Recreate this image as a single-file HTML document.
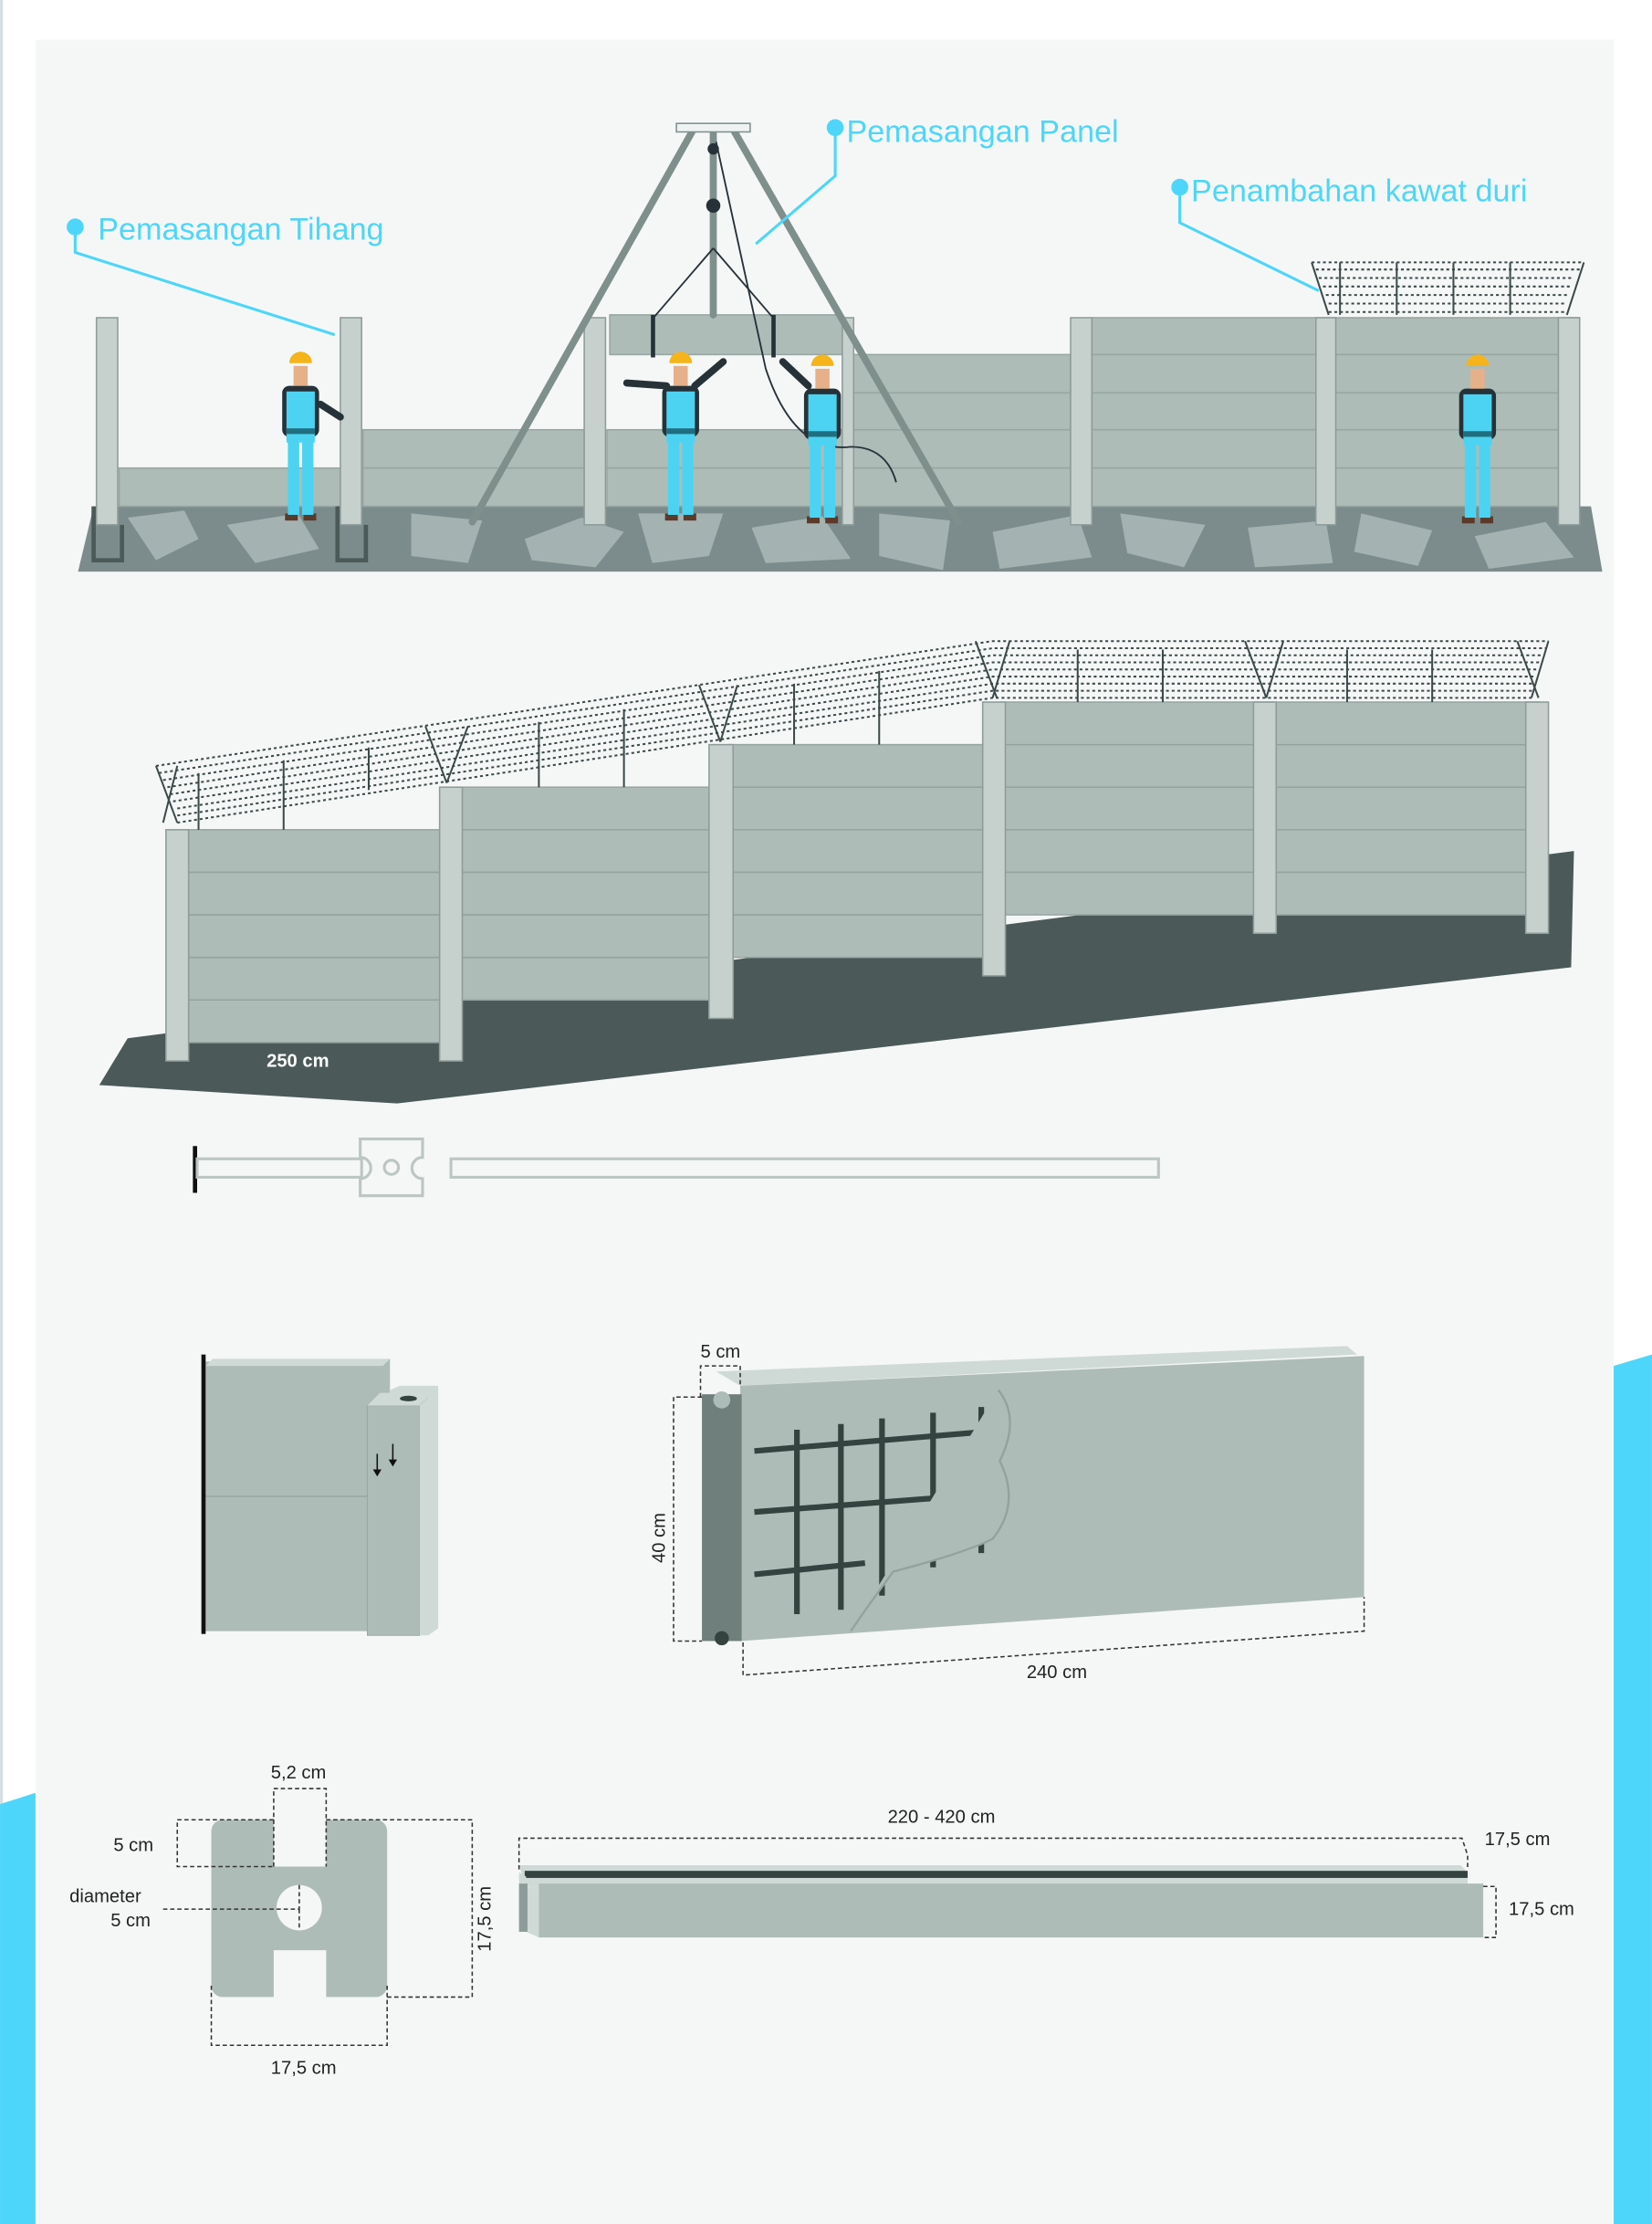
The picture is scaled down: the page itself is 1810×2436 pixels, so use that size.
<!DOCTYPE html>
<html><head><meta charset="utf-8"><style>
html,body{margin:0;padding:0;background:#fff}
svg{display:block}
text{font-family:"Liberation Sans",sans-serif}
</style></head><body>
<svg width="1810" height="2436" viewBox="0 0 1165 1568" xmlns="http://www.w3.org/2000/svg">
<defs>
<g id="w">
 <rect x="-11" y="-6" width="9" height="5" fill="#5a3a2a"/><rect x="2" y="-6" width="9" height="5" fill="#5a3a2a"/>
 <rect x="-9" y="-58" width="8" height="53" fill="#4dd3f2"/><rect x="1" y="-58" width="8" height="53" fill="#4dd3f2"/>
 <rect x="-13" y="-96" width="26" height="36" rx="5" fill="#263238"/>
 <rect x="-10" y="-92" width="20" height="36" fill="#4dd3f2"/>
 <rect x="-10" y="-66" width="20" height="4" fill="#1f6f80"/>
 <rect x="-5" y="-110" width="10" height="14" fill="#e6b089"/>
 <path d="M-8,-112 A8,8 0 0 1 8,-112 Z" fill="#f4b41a"/>
</g>
</defs>
<rect width="1165" height="1568" fill="#fff"/>
<rect x="0" y="0" width="2" height="1568" fill="#d5dfe2"/>
<rect x="25" y="28" width="1113" height="1540" fill="#f5f7f7"/>
<polygon points="0,1272 25,1264 25,1568 0,1568" fill="#4dd6f9"/>
<polygon points="1138,963 1165,955 1165,1568 1138,1568" fill="#4dd6f9"/>

<!-- TOP SCENE -->
<polygon points="55,403 66,357 1122,357 1130,403" fill="#7c8b8b"/>
<g fill="#a5b2b2">
<path d="M90,365 l40,-5 l10,20 l-30,15 z M160,370 l50,-8 l15,25 l-45,10 z M290,362 l50,5 l-10,30 l-40,-5 z M370,380 l40,-15 l30,10 l-20,25 l-45,-5z M450,362 l60,0 l-10,30 l-40,5z M530,372 l50,-8 l20,30 l-60,3z M620,362 l50,5 l-5,35 l-45,-10z M700,375 l60,-12 l10,30 l-65,8z M790,362 l60,8 l-15,30 l-40,-10z M880,372 l55,-5 l5,30 l-55,3z M960,362 l50,12 l-10,25 l-45,-10z M1040,378 l50,-10 l20,25 l-60,8z"/>
</g>
<g fill="#aebcb8" stroke="#97a6a2" stroke-width="1">
<rect x="84" y="330" width="156" height="27"/>
<rect x="256" y="303" width="156" height="27"/><rect x="256" y="330" width="156" height="27"/>
<rect x="428" y="303" width="166" height="27"/><rect x="428" y="330" width="166" height="27"/>
<rect x="600" y="250" width="155" height="27"/><rect x="600" y="277" width="155" height="27"/><rect x="600" y="303" width="155" height="27"/><rect x="600" y="330" width="155" height="27"/>
<rect x="770" y="224" width="344" height="26"/><rect x="770" y="250" width="344" height="27"/><rect x="770" y="277" width="344" height="26"/><rect x="770" y="303" width="344" height="27"/><rect x="770" y="330" width="344" height="27"/>
<rect x="430" y="222" width="164" height="28"/>
</g>
<g fill="#c6d0cd" stroke="#8e9c99" stroke-width="1">
<rect x="68" y="224" width="15" height="146"/><rect x="240" y="224" width="15" height="146"/>
<rect x="412" y="224" width="15" height="146"/><rect x="594" y="224" width="8" height="146"/>
<rect x="755" y="224" width="15" height="146"/><rect x="928" y="224" width="14" height="146"/><rect x="1099" y="224" width="15" height="146"/>
</g>
<path d="M66,357 v38 h20 v-25" fill="none" stroke="#4b5a58" stroke-width="3"/>
<path d="M238,357 v38 h20 v-25" fill="none" stroke="#4b5a58" stroke-width="3"/>
<g stroke="#7f8f8c" stroke-width="5" stroke-linecap="round">
<line x1="488" y1="93" x2="333" y2="368"/><line x1="518" y1="93" x2="676" y2="368"/><line x1="503" y1="93" x2="503" y2="222"/>
</g>
<rect x="477" y="87" width="52" height="6" fill="#eef2f2" stroke="#7f8f8c"/>
<g stroke="#263238" stroke-width="1.2" fill="none">
<line x1="503" y1="175" x2="460" y2="225"/><line x1="503" y1="175" x2="546" y2="225"/>
<path d="M505,100 L540,260 Q560,320 600,315 Q625,315 632,340"/>
</g>
<circle cx="503" cy="105" r="4" fill="#263238"/><circle cx="503" cy="145" r="5" fill="#263238"/>
<rect x="459" y="222" width="3" height="30" fill="#263238"/><rect x="544" y="222" width="3" height="30" fill="#263238"/>
<g stroke="#3b4a48" stroke-width="1.3" fill="none">
<path d="M925,185 h192 M928,190 h186 M930,196 h180 M933,202 h174 M935,208 h172 M937,214 h168 M937,220 h168" stroke-dasharray="2,2"/>
<path d="M925,185 l12,37 M1117,185 l-12,37 M945,185 v37 M985,185 v37 M1025,185 v37 M1065,185 v37"/>
</g>
<use href="#w" x="212" y="368"/>
<use href="#w" x="480" y="368"/>
<use href="#w" x="580" y="370"/>
<use href="#w" x="1042" y="370"/>
<g stroke="#263238" stroke-width="5" stroke-linecap="round"><line x1="470" y1="272" x2="442" y2="270"/><line x1="490" y1="272" x2="510" y2="255"/><line x1="570" y1="272" x2="552" y2="255"/><line x1="226" y1="285" x2="240" y2="294"/></g>
<g fill="#4dd6f9"><circle cx="53" cy="160" r="6"/><circle cx="589" cy="90" r="6"/><circle cx="832" cy="132" r="6"/></g>
<g stroke="#4dd6f9" stroke-width="2" fill="none">
<polyline points="53,160 53,178 236,236"/><polyline points="589,90 589,124 533,172"/><polyline points="832,132 832,157 930,205"/>
</g>
<g fill="#4dd6f9" font-size="22"><text x="69" y="169">Pemasangan Tihang</text><text x="597" y="100">Pemasangan Panel</text><text x="840" y="142">Penambahan kawat duri</text></g>

<!-- MIDDLE SCENE -->
<polygon points="70,765 90,732 1110,600 1108,682 280,778" fill="#4b5a58"/>
<g fill="#aebcb8" stroke="#97a6a2">
<rect x="130" y="585" width="185" height="150"/><rect x="322" y="555" width="185" height="150"/><rect x="514" y="525" width="185" height="150"/><rect x="706" y="495" width="380" height="150"/>
</g>
<g stroke="#93a29e" stroke-width="1">
<path d="M130,615h185M130,645h185M130,675h185M130,705h185M322,585h185M322,615h185M322,645h185M322,675h185M514,555h185M514,585h185M514,615h185M514,645h185M706,525h380M706,555h380M706,585h380M706,615h380"/>
</g>
<g fill="#c6d0cd" stroke="#8e9c99">
<rect x="117" y="585" width="16" height="163"/><rect x="310" y="555" width="16" height="193"/><rect x="500" y="525" width="17" height="193"/><rect x="693" y="495" width="16" height="193"/><rect x="884" y="495" width="16" height="163"/><rect x="1076" y="495" width="16" height="163"/>
</g>
<g stroke="#3b4a48" stroke-width="1.3" fill="none">
<path d="M110,540 L700,452 H1092 M112,545 L700,457 H1090 M115,550 L700,462 H1088 M118,555 L700,467 H1086 M120,560 L700,472 H1085 M122,565 L700,477 H1083 M125,570 L700,482 H1082 M125,575 L700,487 H1081 M125,580 L700,492 H1080" stroke-dasharray="2,2"/>
<path d="M110,540 l15,40 M125,540 l-10,40 M300,512 l15,40 M330,512 l-15,40 M493,483 l15,40 M520,483 l-12,40 M688,452 l15,40 M712,452 l-12,40 M878,452 l15,40 M905,452 l-12,40 M1070,452 l15,40 M1092,452 l-12,40"/>
<path d="M140,545 v40 M200,536 v49 M260,527 v30 M380,509 v46 M440,500 v55 M560,482 v43 M620,473 v52 M760,458 v37 M820,458 v37 M950,458 v37 M1010,458 v37"/>
</g>
<text x="188" y="752" fill="#fff" font-size="13" font-weight="bold">250 cm</text>

<!-- RAIL -->
<rect x="136" y="808" width="3" height="33" fill="#111"/>
<rect x="139" y="817" width="116" height="13" fill="none" stroke="#bcc6c3" stroke-width="2"/>
<path d="M254,803 h44 v13 a7,7 0 0 0 0,15 v12 h-44 v-12 a7,7 0 0 0 0,-15 z" fill="#f5f7f7" stroke="#bcc6c3" stroke-width="2"/>
<circle cx="276" cy="823" r="5" fill="none" stroke="#bcc6c3" stroke-width="2"/>
<rect x="318" y="817" width="499" height="13" fill="none" stroke="#bcc6c3" stroke-width="2"/>

<!-- PANEL IN POST -->
<polygon points="145,960 275,958 275,1150 145,1150" fill="#aebcb8"/>
<polygon points="145,963 270,963 275,958 150,958" fill="#cfdad7"/>
<line x1="145" y1="1055" x2="259" y2="1055" stroke="#97a6a2"/>
<rect x="142" y="955" width="3" height="197" fill="#111"/>
<polygon points="275,980 282,977 309,977 309,1148 302,1153 275,1153" fill="#cfdad7"/>
<rect x="296" y="983" width="6" height="165" fill="#34433f"/>
<rect x="259" y="991" width="37" height="162" fill="#aebcb8" stroke="#97a6a2" stroke-width=".6"/>
<polygon points="259,991 268,982 305,982 296,991" fill="#cfdad7"/>
<polygon points="296,991 305,982 305,1150 296,1153" fill="#cfdad7"/>
<ellipse cx="288" cy="986" rx="6" ry="2" fill="#34433f"/>
<g stroke="#111" stroke-width="1"><line x1="266" y1="1025" x2="266" y2="1038"/><line x1="277" y1="1018" x2="277" y2="1031"/></g>
<g fill="#111"><path d="M263,1036 l6,0 l-3,5z"/><path d="M274,1029 l6,0 l-3,5z"/></g>

<!-- BIG PANEL -->
<polygon points="505,967 950,949 957,955 522,977" fill="#cfdad7"/>
<polygon points="522,977 962,956 962,1126 522,1157" fill="#aebcb8"/>
<rect x="495" y="983" width="28" height="174" fill="#6e7f7c"/>
<circle cx="509" cy="987" r="6" fill="#aebcb8"/><circle cx="509" cy="1155" r="5" fill="#34433f"/>
<g stroke="#34433f" stroke-width="4">
<line x1="532" y1="1023" x2="700" y2="1009"/><line x1="532" y1="1066" x2="702" y2="1053"/><line x1="532" y1="1110" x2="610" y2="1102"/>
<line x1="562" y1="1008" x2="562" y2="1138"/><line x1="593" y1="1004" x2="593" y2="1135"/><line x1="622" y1="1000" x2="622" y2="1125"/><line x1="658" y1="996" x2="658" y2="1105"/><line x1="692" y1="992" x2="692" y2="1095"/>
</g>
<path d="M704,980 Q720,1000 705,1030 Q720,1060 700,1085 Q680,1095 630,1108 Q610,1135 600,1150" fill="#aebcb8" stroke="#93a29e" stroke-width="1.5"/>
<g stroke="#333" stroke-width="1" stroke-dasharray="3,2" fill="none">
<path d="M494,985 v-22 h28 v14"/><path d="M495,985 h-20 v172 h20"/>
<path d="M524,1158 v23 L962,1150 v-24"/>
</g>
<g font-size="13" fill="#222">
<text x="494" y="957">5 cm</text>
<text x="724" y="1183">240 cm</text>
<text transform="translate(469,1102) rotate(-90)">40 cm</text>
</g>

<!-- H POST SECTION -->
<path d="M157,1283 h36 v33 h37 v-33 h35 a8,8 0 0 1 8,8 v109 a8,8 0 0 1 -8,8 h-35 v-33 h-37 v33 h-36 a8,8 0 0 1 -8,-8 v-109 a8,8 0 0 1 8,-8z" fill="#aebcb8"/>
<ellipse cx="211" cy="1345" rx="16" ry="16" fill="#f5f7f7"/>
<g stroke="#333" stroke-width="1" stroke-dasharray="3,2" fill="none">
<path d="M193,1316 v-55 h37 v55"/>
<path d="M193,1283 h-68 v33 h68"/>
<path d="M230,1283 h103 v125 h-60"/>
<path d="M149,1400 v42 h124 v-42"/>
<path d="M115,1346 h96 v-17 M211,1346 v15"/>
</g>
<g font-size="13" fill="#222">
<text x="191" y="1254">5,2 cm</text>
<text x="80" y="1305">5 cm</text>
<text x="49" y="1341">diameter</text>
<text x="78" y="1358">5 cm</text>
<text x="191" y="1462">17,5 cm</text>
<text transform="translate(346,1376) rotate(-90)">17,5 cm</text>
</g>

<!-- LONG POST -->
<polygon points="366,1315 1030,1315 1035,1320 1035,1330 371,1330" fill="#cfdad7"/>
<rect x="370" y="1319" width="665" height="5" fill="#34433f"/>
<polygon points="366,1320 371,1323 371,1360 366,1357" fill="#cfdad7"/>
<polygon points="371,1330 1040,1330 1046,1334 380,1334" fill="#cfdad7"/>
<polygon points="371,1330 380,1334 380,1366 371,1362" fill="#cfdad7"/>
<rect x="380" y="1328" width="666" height="38" fill="#aebcb8"/>
<rect x="366" y="1328" width="6" height="34" fill="#8e9c99"/>
<g stroke="#333" stroke-width="1" stroke-dasharray="3,2" fill="none">
<path d="M366,1318 v-22 H1031 l4,12 v10"/>
<path d="M1046,1330 h9 v36 h-9"/>
</g>
<g font-size="13" fill="#222">
<text x="626" y="1285">220 - 420 cm</text>
<text x="1047" y="1301">17,5 cm</text>
<text x="1064" y="1350">17,5 cm</text>
</g>
</svg>
</body></html>
